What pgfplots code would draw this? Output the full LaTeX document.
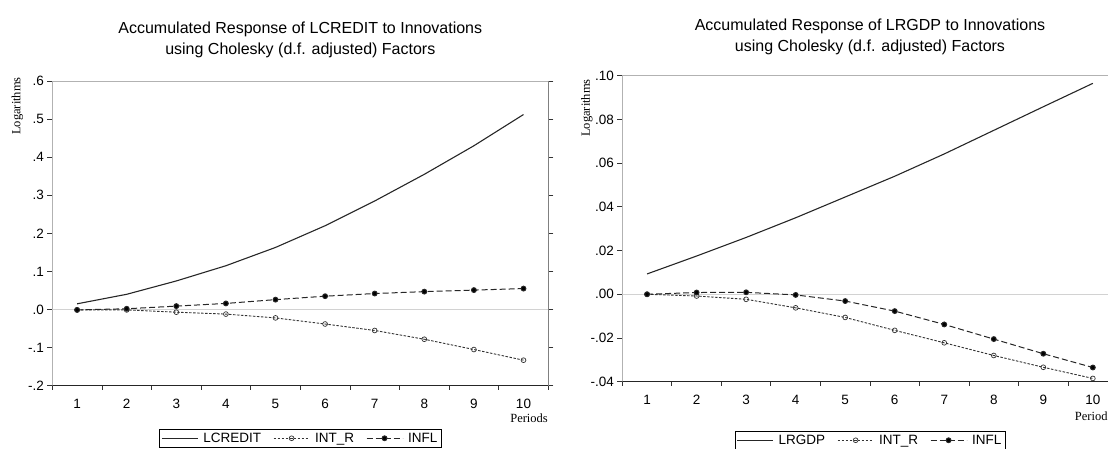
\documentclass[border=0pt]{standalone}
\usepackage{pgfplots}
\pgfplotsset{compat=1.18}
\usepackage{fontspec}
\setmainfont{Liberation Sans}
\newfontfamily\timesfont{Liberation Serif}

\pgfplotstableread{
per lcredit intr infl
1  0.015  -0.001 -0.001
2  0.040  -0.001  0.002
3  0.075  -0.007  0.009
4  0.115  -0.012  0.016
5  0.163  -0.022  0.026
6  0.220  -0.038  0.035
7  0.285  -0.055  0.042
8  0.355  -0.078  0.047
9  0.430  -0.105  0.051
10 0.512  -0.133  0.055
}\leftdata

\pgfplotstableread{
per lrgdp intr infl
1  0.0093  0.0000  0.0000
2  0.0175 -0.0008  0.0008
3  0.0260 -0.0023  0.0009
4  0.0350 -0.0062 -0.0003
5  0.0445 -0.0106 -0.0031
6  0.0540 -0.0165 -0.0077
7  0.0642 -0.0222 -0.0138
8  0.0750 -0.0280 -0.0205
9  0.0858 -0.0334 -0.0272
10 0.0965 -0.0385 -0.0335
}\rightdata

\pgfplotsset{
  ev/.style={
    scale only axis,
    anchor=south west,
    xmin=0.5, xmax=10.5,
    xtick={1,...,10},
    xticklabels={1,2,3,4,5,6,7,8,9,10},
    minor xtick={0.5,1.5,...,10.5},
    major x tick style={draw=none},
    xtick pos=bottom,
    ytick pos=both,
    tick align=outside,
    major tick length=5pt,
    minor tick length=4pt,
    tick style={black!80, line width=0.8pt},
    axis line style={gray!60, line width=0.9pt},
    ticklabel style={font=\fontsize{13.5}{16}\selectfont},
    xticklabel style={yshift=-5pt},
    legend columns=3,
    legend cell align=left,
    legend style={draw=black, line width=0.6pt, font=\fontsize{13.5}{16}\selectfont,
      inner sep=1.5pt, row sep=0pt,
      /tikz/every odd column/.append style={column sep=3pt},
      /tikz/every even column/.append style={column sep=10pt}},
    legend image code/.code={\draw[mark repeat=2,mark phase=2] plot coordinates {(0pt,0pt) (18pt,0pt) (36pt,0pt)};},
  },
  solidl/.style={black!85, line width=1.1pt, no marks},
  intrl/.style={black!80, line width=0.9pt, dash pattern=on 2.5pt off 1.5pt, mark=o, mark size=2.4pt, mark options={solid, fill=white, line width=0.7pt}},
  infll/.style={black!85, line width=1.0pt, dash pattern=on 6pt off 3pt, mark=*, mark size=2.4pt, mark options={solid, fill=black}},
}

\begin{document}
\begin{tikzpicture}[x=1pt,y=1pt]
\begin{axis}[ev,
  at={(52.3pt,62.3pt)}, width=496pt, height=304.7pt,
  ymin=-0.2, ymax=0.6,
  ytick={-0.2,-0.1,0,0.1,0.2,0.3,0.4,0.5,0.6},
  yticklabels={-.2,-.1,.0,.1,.2,.3,.4,.5,.6},
  legend style={at={(0.5,0)}, anchor=north, yshift=-43.3pt},
]
\addplot[gray!35, line width=0.8pt, forget plot] coordinates {(0.5,0) (10.5,0)};
\addplot[solidl] table[x=per, y=lcredit] {\leftdata};
\addlegendentry{LCREDIT}
\addplot[intrl] table[x=per, y=intr] {\leftdata};
\addlegendentry{INT\_R}
\addplot[infll] table[x=per, y=infl] {\leftdata};
\addlegendentry{INFL}
\draw[black!85, line width=1pt] (rel axis cs:0,0) -- (rel axis cs:1,0) -- (rel axis cs:1,1);
\end{axis}

\begin{axis}[ev,
  at={(622.3pt,66.3pt)}, width=495.3pt, height=306pt,
  ymin=-0.04, ymax=0.10,
  ytick={-0.04,-0.02,0,0.02,0.04,0.06,0.08,0.10},
  yticklabels={-.04,-.02,.00,.02,.04,.06,.08,.10},
  legend style={at={(0.5,0)}, anchor=north, yshift=-49.3pt},
]
\addplot[gray!35, line width=0.8pt, forget plot] coordinates {(0.5,0) (10.5,0)};
\addplot[solidl] table[x=per, y=lrgdp] {\rightdata};
\addlegendentry{LRGDP}
\addplot[intrl] table[x=per, y=intr] {\rightdata};
\addlegendentry{INT\_R}
\addplot[infll] table[x=per, y=infl] {\rightdata};
\addlegendentry{INFL}
\draw[black!85, line width=1pt] (rel axis cs:0,0) -- (rel axis cs:1,0) -- (rel axis cs:1,1);
\end{axis}

\node[font=\fontsize{16}{21}\selectfont, align=center] at (300.3pt,408.5pt)
  {Accumulated Response of LCREDIT to Innovations\\using Cholesky (d.f. adjusted) Factors};
\node[font=\fontsize{16}{21}\selectfont, align=center] at (870pt,411.5pt)
  {Accumulated Response of LRGDP to Innovations\\using Cholesky (d.f. adjusted) Factors};
\node[font=\timesfont\fontsize{12.5}{15}\selectfont, rotate=90] at (17.5pt,342pt) {Logarithms};
\node[font=\timesfont\fontsize{12.5}{15}\selectfont, rotate=90] at (587pt,340pt) {Logarithms};
\node[font=\timesfont\fontsize{12.5}{15}\selectfont, anchor=base east, inner sep=0pt] at (548pt,25.3pt) {Periods};
\node[font=\timesfont\fontsize{12.5}{15}\selectfont, anchor=base west, inner sep=0pt] at (1074.7pt,27.3pt) {Periods};

\pgfresetboundingbox
\path[use as bounding box] (0,0) rectangle (1108pt,448pt);
\end{tikzpicture}
\end{document}
